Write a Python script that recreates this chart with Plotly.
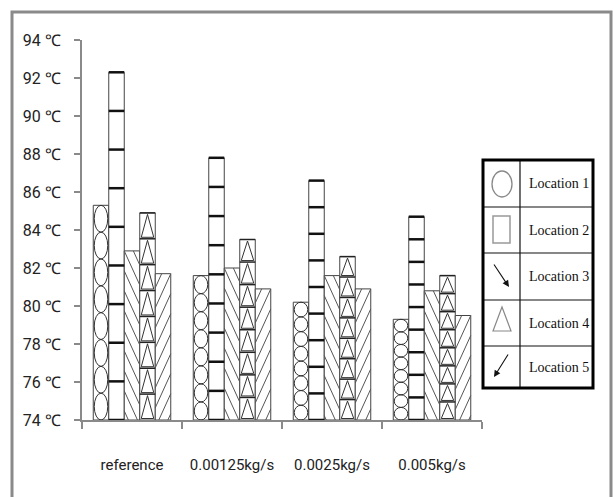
import math
import plotly.graph_objects as go

# ---------------- data ----------------
categories = ["reference", "0.00125kg/s", "0.0025kg/s", "0.005kg/s"]
locations = ["Location 1", "Location 2", "Location 3", "Location 4", "Location 5"]
loc1 = [85.3, 81.6, 80.2, 79.3]
loc2 = [92.3, 87.8, 86.6, 84.7]
loc3 = [82.9, 82.0, 81.6, 80.8]
loc4 = [84.9, 83.5, 82.6, 81.6]
loc5 = [81.7, 80.9, 80.9, 79.5]
y_ticks = [74, 76, 78, 80, 82, 84, 86, 88, 90, 92, 94]
y_ticktext = [f"{v} ℃" for v in y_ticks]

series = [loc1, loc2, loc3, loc4, loc5]

# ---------------- layout constants ----------------
W, H = 613, 497
ML, MR, MT, MB = 82, 131, 40, 77
PW, PH = W - ML - MR, H - MT - MB
YMIN, YMAX = 74, 94
XMIN, XMAX = -0.5, 3.5
PXX = PW / (XMAX - XMIN)
PXY = PH / (YMAX - YMIN)
BW = 0.155
TICKFONT = "Roboto, Open Sans, sans-serif"

def px2paper(px, py):
    return (px - ML) / PW, (H - MB - py) / PH

fig = go.Figure()
shapes = []
annotations = []

edge = "#444"
for j, vals in enumerate(series):
    xs = [i + (j - 2) * BW for i in range(len(categories))]
    fig.add_trace(go.Bar(
        x=xs, y=[v - YMIN for v in vals], base=YMIN, width=BW,
        name=locations[j], marker=dict(color="white", line=dict(color=edge, width=1)),
        showlegend=False,
    ))

def add_line(x0, y0, x1, y1, color, width):
    shapes.append(dict(type="line", xref="x", yref="y", x0=x0, y0=y0, x1=x1, y1=y1,
                       line=dict(color=color, width=width)))

for i in range(len(categories)):
    # Location 1: stacked ellipses (8 cells)
    xl = i - 2 * BW - BW / 2
    xr = xl + BW
    top = loc1[i]
    n = 8
    cell = (top - YMIN) / n
    for k in range(n):
        shapes.append(dict(type="circle", xref="x", yref="y",
                           x0=xl + 0.01, x1=xr - 0.01,
                           y0=YMIN + k * cell, y1=YMIN + (k + 1) * cell,
                           line=dict(color="#333", width=1)))
    # Location 2: 9 cells separated by thick bars
    xl = i - BW - BW / 2
    xr = xl + BW
    top = loc2[i]
    n = 9
    cell = (top - YMIN) / n
    for k in range(n + 1):
        yy = YMIN + k * cell
        add_line(xl, yy, xr, yy, "#111", 2.5)
    # Location 4: 8 triangles
    xl = i + BW - BW / 2
    xr = xl + BW
    top = loc4[i]
    n = 8
    cell = (top - YMIN) / n
    m = 1.5 / PXX
    for k in range(n):
        yb = YMIN + k * cell
        yt = yb + cell
        add_line(xl, yt, xr, yt, "#222", 1.5)
        shapes.append(dict(type="path", xref="x", yref="y",
                           path=f"M {xl + m} {yb + 1.5 / PXY} L {(xl + xr) / 2} {yt - 1.5 / PXY} L {xr - m} {yb + 1.5 / PXY} Z",
                           line=dict(color="#333", width=1)))

def diag(xl, top, flip):
    Wp = BW * PXX
    T = (top - YMIN) * PXY
    S = 2.2
    Hh = S * Wp
    D = 20.0
    kmin = -int(math.ceil(Hh / D))
    kmax = int(math.ceil(T / D)) + 1
    for k in range(kmin, kmax):
        yL = T - k * D
        t0 = max(0.0, (yL - T) / Hh)
        t1 = min(1.0, yL / Hh)
        if t1 - t0 < 0.03:
            continue
        pts = []
        for t in (t0, t1):
            xp = (1 - t) * Wp if flip else t * Wp
            yp = yL - t * Hh
            pts.append((xl + xp / PXX, YMIN + yp / PXY))
        add_line(pts[0][0], pts[0][1], pts[1][0], pts[1][1], "#555", 1)

for i in range(len(categories)):
    diag(i - BW / 2, loc3[i], False)
    diag(i + 2 * BW - BW / 2, loc5[i], True)

# ---------------- outer frame ----------------
fx0, fy0 = px2paper(12, 12)
fx1, fy1 = px2paper(611, 505)
shapes.append(dict(type="rect", xref="paper", yref="paper", x0=fx0, y0=fy1, x1=fx1, y1=fy0,
                   line=dict(color="#8a8a8a", width=3), layer="below"))

# ---------------- custom legend table ----------------
def prect(x0, y0, x1, y1, color, width):
    a0, b0 = px2paper(x0, y0)
    a1, b1 = px2paper(x1, y1)
    shapes.append(dict(type="rect", xref="paper", yref="paper", x0=a0, y0=b1, x1=a1, y1=b0,
                       line=dict(color=color, width=width)))

def pline(x0, y0, x1, y1, color, width):
    a0, b0 = px2paper(x0, y0)
    a1, b1 = px2paper(x1, y1)
    shapes.append(dict(type="line", xref="paper", yref="paper", x0=a0, y0=b0, x1=a1, y1=b1,
                       line=dict(color=color, width=width)))

LX0, LX1, LY0, LY1, LCOL = 483, 593, 160, 388, 520
rows = [160, 207, 253, 300, 346, 388]
for r in rows[1:-1]:
    pline(LX0, r, LX1, r, "#111", 1.2)
pline(LCOL, LY0, LCOL, LY1, "#111", 1.2)
prect(LX0, LY0, LX1, LY1, "#000", 3)

# icons
a0, b0 = px2paper(492, 171)
a1, b1 = px2paper(512, 197)
shapes.append(dict(type="circle", xref="paper", yref="paper", x0=a0, y0=b1, x1=a1, y1=b0,
                   line=dict(color="#888", width=1.3)))
prect(493, 216, 510, 243, "#999", 1.5)
p = [px2paper(493, 331), px2paper(502, 307), px2paper(511, 331)]
shapes.append(dict(type="path", xref="paper", yref="paper",
                   path=f"M {p[0][0]} {p[0][1]} L {p[1][0]} {p[1][1]} L {p[2][0]} {p[2][1]} Z",
                   line=dict(color="#888", width=1.2)))
for (hx, hy, tx, ty) in [(509, 287, 493, 263), (494, 377, 509, 353)]:
    ha, hb = px2paper(hx, hy)
    annotations.append(dict(xref="paper", yref="paper", x=ha, y=hb, ax=tx - hx, ay=ty - hy,
                            text="", showarrow=True, arrowhead=2, arrowsize=1.2,
                            arrowwidth=1.1, arrowcolor="#111"))

for k, name in enumerate(locations):
    cy = (rows[k] + rows[k + 1]) / 2
    a, b = px2paper(527, cy)
    annotations.append(dict(xref="paper", yref="paper", x=a, y=b, xanchor="left", yanchor="middle",
                            text=name, showarrow=False,
                            font=dict(family="Liberation Serif, DejaVu Serif, serif", size=14, color="#111")))

fig.update_layout(
    width=W, height=H,
    margin=dict(l=ML, r=MR, t=MT, b=MB, pad=0),
    paper_bgcolor="white", plot_bgcolor="white",
    barmode="overlay",
    showlegend=False,
    shapes=shapes,
    annotations=annotations,
    font=dict(family=TICKFONT, size=15, color="#222"),
    xaxis=dict(
        range=[XMIN, XMAX], tickvals=list(range(len(categories))), ticktext=categories,
        ticks="", showline=True, linecolor="#8a8a8a", linewidth=2, showgrid=False, zeroline=False,
        ticklabelstandoff=30, tickfont=dict(family=TICKFONT, size=15, color="#222"),
        minor=dict(tickmode="linear", tick0=-0.5, dtick=1, ticks="outside", ticklen=7,
                   tickwidth=2, tickcolor="#8a8a8a", showgrid=False),
        fixedrange=True,
    ),
    yaxis=dict(
        range=[YMIN, YMAX], tickvals=y_ticks, ticktext=y_ticktext,
        ticks="outside", ticklen=6, tickwidth=2, tickcolor="#8a8a8a",
        showline=True, linecolor="#8a8a8a", linewidth=2, showgrid=False, zeroline=False,
        ticklabelstandoff=10, tickfont=dict(family=TICKFONT, size=16, color="#222"),
        fixedrange=True,
    ),
)

fig.write_html("out.html")
